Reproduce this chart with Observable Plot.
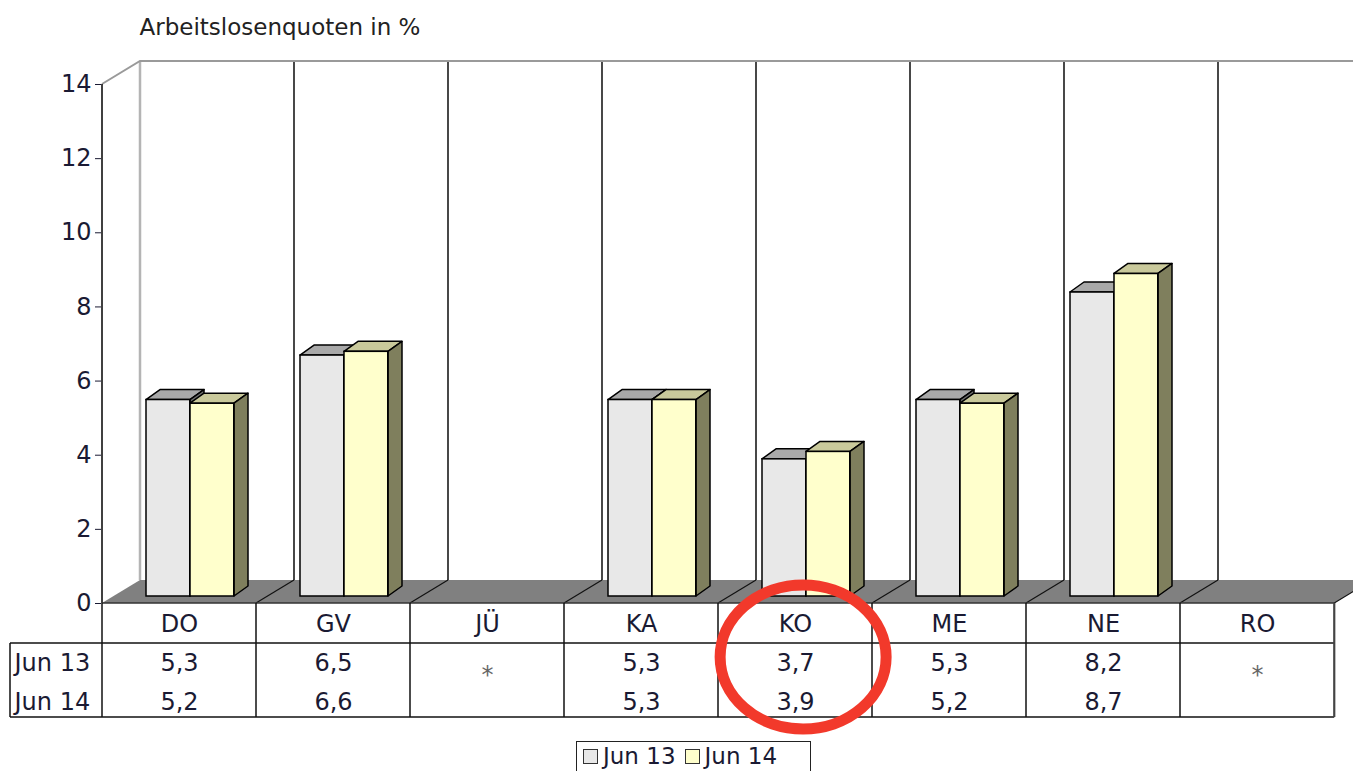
<!DOCTYPE html>
<html>
<head>
<meta charset="utf-8">
<script src="https://cdn.jsdelivr.net/npm/d3@7"></script>
<script src="https://cdn.jsdelivr.net/npm/@observablehq/plot@0.6"></script>
<style>
  html, body { margin: 0; padding: 0; background: #fff; }
  body { width: 1353px; height: 771px; overflow: hidden; position: relative; font-family: "DejaVu Sans", Verdana, sans-serif; }
  #legend { position: absolute; left: 576px; top: 741px; width: 235px; height: 40px; border: 1px solid #222; box-sizing: border-box; display: flex; align-items: flex-start; padding: 2px 0 0 6px; font-size: 23px; color: #1a1a33; line-height: 25px; }
  #legend .item { display: flex; align-items: center; margin-right: 9px; }
  #legend .sw { width: 15px; height: 15px; border: 1px solid #333; box-sizing: border-box; margin-right: 5px; }
  #chart { position: absolute; left: 0; top: 0; }
</style>
</head>
<body>
<div id="legend"></div>
<div id="chart"></div>
<script>
// ---- data ----
const title = "Arbeitslosenquoten in %";
const categories = ["DO", "GV", "JÜ", "KA", "KO", "ME", "NE", "RO"];
const seriesNames = ["Jun 13", "Jun 14"];
const jun13 = [5.3, 6.5, null, 5.3, 3.7, 5.3, 8.2, null];
const jun14 = [5.2, 6.6, null, 5.3, 3.9, 5.2, 8.7, null];
const yTicks = [0, 2, 4, 6, 8, 10, 12, 14];
const missingMark = "*";
const highlight = "KO";

// ---- styles ----
const frontColors = ["#e8e8e8", "#ffffcc"];
const topColors = ["#a9a9a9", "#c9c99b"];
const sideColors = ["#6f6f6f", "#7f7f5d"];
const textColor = "#1a1a33";

// ---- layout ----
const W = 1353, H = 771;
const mLeft = 101, mRight = 18, mTop = 84, mBottom = 168;
const bw = (W - mLeft - mRight) / categories.length;
const DX = 38, DY = -23;              // wall/floor depth
const BAR_OFF = 44, BAR_W = 44;       // bar placement in band
const BDX = 14, BDY = -10, LIFT = 7;  // bar depth and lift

const seriesArrays = [jun13, jun14];
const rows = [];
categories.forEach((c, i) => {
  seriesArrays.forEach((arr, s) => {
    if (arr[i] != null) rows.push({cat: c, series: seriesNames[s], s, value: arr[i]});
  });
});
const table = categories.map((c, i) => ({cat: c, v13: jun13[i], v14: jun14[i]}));
const fmt = v => d3.format(".1f")(v).replace(".", ",");
const pts = a => a.map(p => p.join(",")).join(" ");

function boundary(x, i) {
  return i < categories.length ? x(categories[i]) : x(categories[categories.length - 1]) + bw;
}

// wall, floor and y-axis line
function wallFloor(index, scales, values, dims) {
  const x = scales.x, y = scales.y;
  const n = categories.length;
  const x0 = boundary(x, 0), x1 = boundary(x, n);
  const y0 = y(0), yT = y(yTicks[yTicks.length - 1]);
  const g = d3.create("svg:g");
  g.append("polygon")
    .attr("points", pts([[x0, y0], [x1, y0], [x1 + DX, y0 + DY], [x0 + DX, y0 + DY]]))
    .attr("fill", "#808080");
  for (let i = 1; i <= n; i++) {
    const b = boundary(x, i);
    g.append("line").attr("x1", b).attr("y1", y0).attr("x2", b + DX).attr("y2", y0 + DY)
      .attr("stroke", "#111").attr("stroke-width", 1.2);
  }
  for (let i = 1; i <= n; i++) {
    const b = boundary(x, i) + DX;
    g.append("line").attr("x1", b).attr("y1", y0 + DY).attr("x2", b).attr("y2", yT + DY)
      .attr("stroke", "#1a1a1a").attr("stroke-width", 1.6);
  }
  g.append("line").attr("x1", x0 + DX).attr("y1", y0 + DY).attr("x2", x0 + DX).attr("y2", yT + DY)
    .attr("stroke", "#b4b4b4").attr("stroke-width", 2.5);
  g.append("polyline").attr("points", pts([[x0, yT], [x0 + DX, yT + DY], [dims.width + 5, yT + DY]]))
    .attr("fill", "none").attr("stroke", "#9a9a9a").attr("stroke-width", 2);
  // y axis line
  g.append("line").attr("x1", x0).attr("y1", yT).attr("x2", x0).attr("y2", y0)
    .attr("stroke", "#000").attr("stroke-width", 1.5);
  return g.node();
}

// top and side faces of the bars
function barFaces(index, scales, values, dims) {
  const x = scales.x, y = scales.y;
  const g = d3.create("svg:g").attr("stroke", "#000").attr("stroke-width", 1.5).attr("stroke-linejoin", "round");
  for (const r of rows) {
    const L = x(r.cat) + BAR_OFF + r.s * BAR_W, R = L + BAR_W;
    const T = y(r.value) - LIFT, B = y(0) - LIFT;
    g.append("polygon").attr("points", pts([[L, T], [R, T], [R + BDX, T + BDY], [L + BDX, T + BDY]]))
      .attr("fill", topColors[r.s]);
    g.append("polygon").attr("points", pts([[R, T], [R + BDX, T + BDY], [R + BDX, B + BDY], [R, B]]))
      .attr("fill", sideColors[r.s]);
  }
  return g.node();
}

// data table grid
function tableGrid(index, scales, values, dims) {
  const x = scales.x, y = scales.y;
  const n = categories.length;
  const x0 = boundary(x, 0), x1 = boundary(x, n);
  const y0 = y(0), r1 = y0 + 40, r2 = y0 + 114, left = 10;
  const g = d3.create("svg:g").attr("stroke", "#111").attr("stroke-width", 1.5).attr("fill", "none");
  g.append("line").attr("x1", x0).attr("y1", y0).attr("x2", x1).attr("y2", y0).attr("stroke", "#333");
  g.append("line").attr("x1", left).attr("y1", r1).attr("x2", x1).attr("y2", r1);
  g.append("line").attr("x1", left).attr("y1", r2).attr("x2", x1).attr("y2", r2);
  g.append("line").attr("x1", left).attr("y1", r1).attr("x2", left).attr("y2", r2);
  for (let i = 0; i < n; i++) {
    const b = boundary(x, i);
    g.append("line").attr("x1", b).attr("y1", y0).attr("x2", b).attr("y2", r2);
  }
  g.append("line").attr("x1", x1).attr("y1", y0).attr("x2", x1).attr("y2", r2)
    .attr("stroke", "#444").attr("stroke-width", 2.2);
  return g.node();
}

// red highlight ring around one column of the table
function ring(index, scales, values, dims) {
  const x = scales.x, y = scales.y;
  return d3.create("svg:ellipse")
    .attr("cx", x(highlight) + bw / 2 + 8)
    .attr("cy", y(0) + 54)
    .attr("rx", 83).attr("ry", 72)
    .attr("fill", "none").attr("stroke", "#f2392b").attr("stroke-width", 11)
    .node();
}

const chart = Plot.plot({
  width: W, height: H,
  marginLeft: mLeft, marginRight: mRight, marginTop: mTop, marginBottom: mBottom,
  style: {fontSize: "24px", fontFamily: "DejaVu Sans, Verdana, sans-serif", color: textColor, background: "transparent", overflow: "visible"},
  x: {type: "band", domain: categories, padding: 0, axis: null},
  y: {domain: [0, 14], ticks: yTicks, tickSize: 6, tickPadding: 4, label: null, tickFormat: d => String(d)},
  color: {domain: seriesNames, range: frontColors},
  marks: [
    wallFloor,
    barFaces,
    Plot.barY(rows.filter(r => r.s === 0), {x: "cat", y: "value", fill: "series", stroke: "#000", strokeWidth: 1.5,
      insetLeft: BAR_OFF, insetRight: bw - BAR_OFF - BAR_W, dy: -LIFT}),
    Plot.barY(rows.filter(r => r.s === 1), {x: "cat", y: "value", fill: "series", stroke: "#000", strokeWidth: 1.5,
      insetLeft: BAR_OFF + BAR_W, insetRight: bw - BAR_OFF - 2 * BAR_W, dy: -LIFT}),
    tableGrid,
    Plot.text(categories, {x: d => d, text: d => d, frameAnchor: "bottom", dy: 28, fill: textColor}),
    Plot.text(table.filter(d => d.v13 != null), {x: "cat", text: d => fmt(d.v13), frameAnchor: "bottom", dy: 67, fill: textColor}),
    Plot.text(table.filter(d => d.v14 != null), {x: "cat", text: d => fmt(d.v14), frameAnchor: "bottom", dy: 106, fill: textColor}),
    Plot.text(table.filter(d => d.v13 == null), {x: "cat", text: () => missingMark, frameAnchor: "bottom", dy: 79, fill: "#666"}),
    Plot.text([seriesNames[0]], {text: d => d, frameAnchor: "bottom-left", textAnchor: "start", dx: -87, dy: 67, fill: textColor}),
    Plot.text([seriesNames[1]], {text: d => d, frameAnchor: "bottom-left", textAnchor: "start", dx: -87, dy: 106, fill: textColor}),
    Plot.text([title], {text: d => d, frameAnchor: "top-left", textAnchor: "start", dx: DX, dy: -66, fontSize: 23, fill: "#222"}),
    ring
  ]
});
document.getElementById("chart").appendChild(chart);

// legend
const legend = d3.select("#legend");
seriesNames.forEach((s, i) => {
  const item = legend.append("div").attr("class", "item");
  item.append("div").attr("class", "sw").style("background", frontColors[i]);
  item.append("span").text(s);
});
</script>
</body>
</html>
